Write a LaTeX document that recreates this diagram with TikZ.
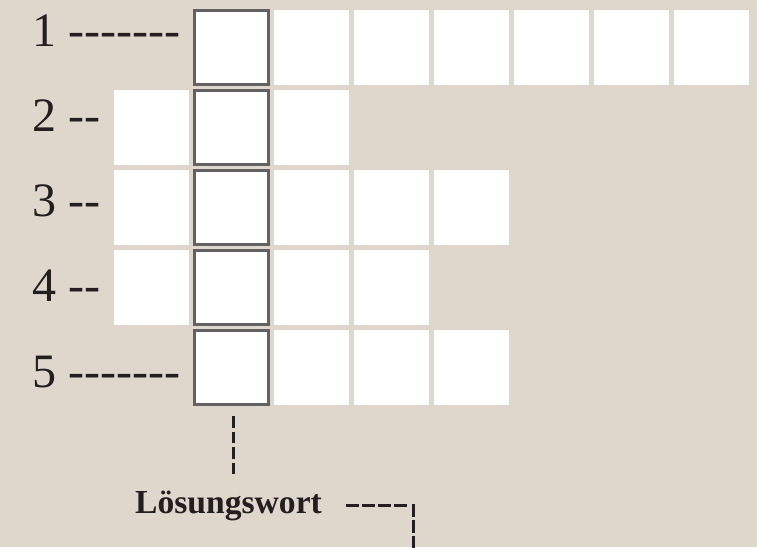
\documentclass[tikz,border=0pt]{standalone}
\usepackage{fontspec}
\setmainfont{Liberation Serif}
\usetikzlibrary{calc}

\definecolor{paper}{RGB}{224,215,204}
\definecolor{ink}{RGB}{35,31,32}
\definecolor{frame}{RGB}{98,98,98}

% a hyphen that is never merged into an en or em dash
\newcommand\lhy{-\kern0pt\relax}

\tikzset{
  cell/.style={fill=white, draw=none, minimum size=75pt, inner sep=0pt},
  keycell/.style={fill=white, draw=frame, line width=3pt, minimum size=74pt, inner sep=0pt},
  rowlabel/.style={text=ink, inner sep=0pt, font=\fontsize{48}{48}\selectfont},
  wordlabel/.style={text=ink, inner sep=0pt, font=\bfseries\fontsize{33.6}{34}\selectfont},
  conn/.style={draw=ink, line width=3pt, dash pattern=on 12pt off 4pt},
}

\begin{document}
\begin{tikzpicture}[x=1pt, y=-1pt]
  % background and page size
  \fill[paper] (0,0) rectangle (757,547);
  \useasboundingbox (0,0) rectangle (757,547);

  % plain letter cells, row / first column / last column
  \foreach \r/\a/\b in {1/1/7, 2/0/2, 3/0/4, 4/0/3, 5/1/4} {
    \foreach \c in {\a,...,\b} {
      \ifnum\c=1\relax\else
        \node[cell] (c\r\c) at (151.5+80*\c, 47.5+80*\r-80) {};
      \fi
    }
  }

  % framed cells holding the solution word
  \foreach \r in {1,...,5} {
    \node[keycell] (k\r) at (231.5, 47.5+80*\r-80) {};
  }

  % row numbers
  \node[rowlabel, anchor=base east] (n1) at (181, 46)    {1 \lhy\lhy\lhy\lhy\lhy\lhy\lhy};
  \node[rowlabel, anchor=base east] (n2) at (101, 131.3) {2 \lhy\lhy};
  \node[rowlabel, anchor=base east] (n3) at (101, 216.6) {3 \lhy\lhy};
  \node[rowlabel, anchor=base east] (n4) at (101, 301.9) {4 \lhy\lhy};
  \node[rowlabel, anchor=base east] (n5) at (181, 387.2) {5 \lhy\lhy\lhy\lhy\lhy\lhy\lhy};

  % caption
  \node[wordlabel, anchor=base west] (lw) at (135, 513) {Lösungswort};

  % leader lines
  \coordinate (stemend) at (233, 476);
  \coordinate (turn) at (413, 504);
  \coordinate (tail) at (413, 560);
  \draw[conn, dash pattern=on 11.5pt off 4pt] ($(k5.south)+(1.5,10)$) -- (stemend);
  \draw[conn, dash pattern=on 13pt off 3pt] ($(turn)+(-67,1)$) -- ($(turn)+(-6,1)$);
  \draw[conn, dash pattern=on 13pt off 3pt] (turn) -- (tail);
\end{tikzpicture}
\end{document}
